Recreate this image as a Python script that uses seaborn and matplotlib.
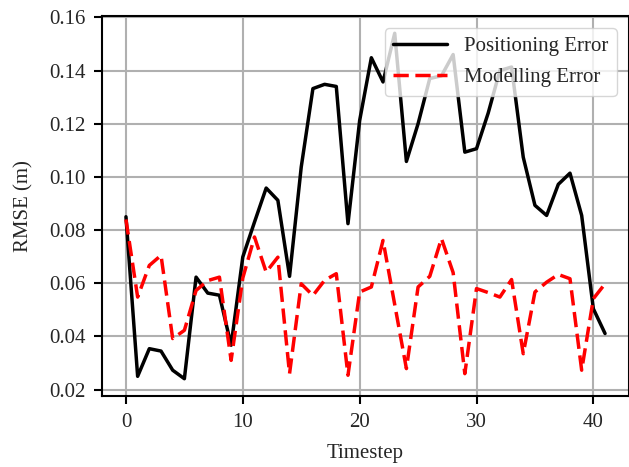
import numpy as np
import pandas as pd
import matplotlib
matplotlib.use("Agg")
import matplotlib.pyplot as plt
import seaborn as sns

# values
timestep = list(range(42))
positioning_error = [
    0.085, 0.025, 0.0354, 0.0345, 0.0273, 0.0241, 0.0623, 0.0563, 0.0555, 0.0367,
    0.0699, 0.083, 0.0958, 0.0912, 0.0626, 0.1037, 0.1332, 0.1348, 0.134, 0.0824,
    0.1212, 0.1448, 0.1357, 0.154, 0.1058, 0.120, 0.137, 0.138, 0.146, 0.1093,
    0.1106, 0.124, 0.140, 0.1413, 0.1074, 0.0893, 0.0855, 0.0972, 0.1014, 0.0855,
    0.0504, 0.0411,
]
modelling_error = [
    0.084, 0.0548, 0.0667, 0.0705, 0.0392, 0.0423, 0.0573, 0.061, 0.0623, 0.031,
    0.062, 0.0774, 0.0642, 0.0698, 0.026, 0.0598, 0.0554, 0.0611, 0.0636, 0.0254,
    0.0567, 0.0586, 0.0761, 0.052, 0.0279, 0.0586, 0.0626, 0.0768, 0.064, 0.026,
    0.058, 0.0565, 0.0548, 0.0614, 0.0335, 0.0567, 0.0604, 0.0633, 0.0617, 0.0273,
    0.0542, 0.0598,
]

df = pd.DataFrame({
    "Timestep": timestep * 2,
    "RMSE": positioning_error + modelling_error,
    "Series": ["Positioning Error"] * 42 + ["Modelling Error"] * 42,
})

sns.set_style("ticks")
plt.rcParams["font.family"] = ["Liberation Serif", "DejaVu Serif"]

fig = plt.figure(figsize=(6.29, 4.67), dpi=100)
ax = fig.add_axes([102 / 629, 1 - 396 / 467, 1 - 102 / 629, (396 - 16) / 467])

sns.lineplot(
    data=df,
    x="Timestep",
    y="RMSE",
    hue="Series",
    style="Series",
    palette={"Positioning Error": "black", "Modelling Error": "red"},
    dashes={"Positioning Error": "", "Modelling Error": (4.4, 1.9)},
    linewidth=2.5,
    ax=ax,
)

# light grid behind the lines
ax.grid(True, color="#b0b0b0", linewidth=1.5)
ax.set_axisbelow(True)
ax.set_xlabel("Timestep", fontsize=15, labelpad=9)
ax.set_ylabel("RMSE (m)", fontsize=15, labelpad=11)
ax.set_xticks([0, 10, 20, 30, 40])
ax.set_yticks([0.02, 0.04, 0.06, 0.08, 0.10, 0.12, 0.14, 0.16])
ax.yaxis.set_major_formatter(matplotlib.ticker.FormatStrFormatter("%.2f"))
ax.tick_params(labelsize=15, direction="out", length=6, width=1.5, color="black", pad=6)
for s in ax.spines.values():
    s.set_color("black")
    s.set_linewidth(1.5)

leg = ax.legend(loc="upper right", fontsize=15, framealpha=0.8, fancybox=True,
                title=None, handlelength=2.6, labelspacing=0.55, borderaxespad=0.6)
leg.get_frame().set_edgecolor("#cccccc")

fig.savefig("out.png", dpi=100)
